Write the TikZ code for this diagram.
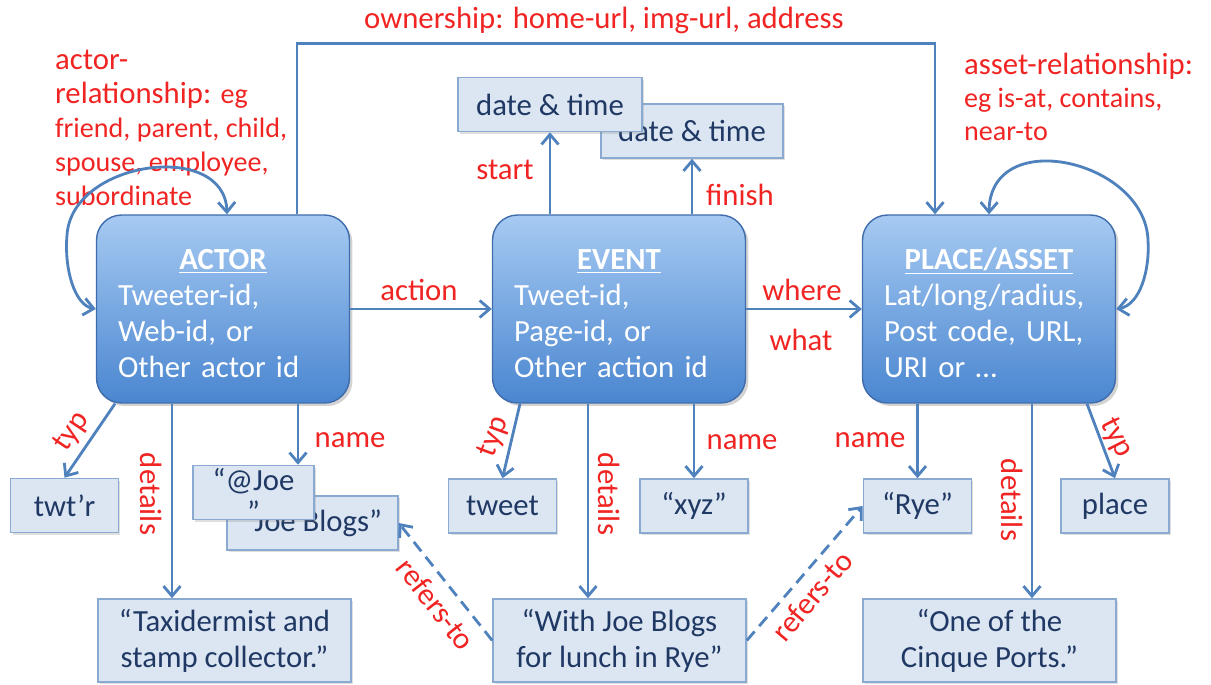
\documentclass[tikz,border=0pt]{standalone}
\usepackage{fontspec}
\setmainfont{Carlito}
\usepackage{tikz}
\usetikzlibrary{arrows.meta, positioning, calc, shadows}
\definecolor{boxtop}{RGB}{166,202,242}
\definecolor{boxbot}{RGB}{74,134,208}
\definecolor{boxedge}{RGB}{62,108,172}
\definecolor{attrfill}{RGB}{220,230,242}
\definecolor{attredge}{RGB}{138,170,210}
\definecolor{attrtext}{RGB}{31,56,100}
\definecolor{linkblue}{RGB}{79,129,189}
\definecolor{relred}{RGB}{240,36,34}
\newcommand{\bodyfont}{\fontsize{17.5}{20.5}\selectfont}
\newcommand{\smallrel}{\fontsize{16}{19.3}\selectfont}
\tikzset{
  mainbox/.style={rectangle, rounded corners=0.5cm, draw=boxedge,
    line width=0.8pt, top color=boxtop, bottom color=boxbot,
    minimum width=5.06cm, minimum height=3.76cm, text width=4.2cm,
    align=left, inner sep=0pt, text=white, font=\bodyfont,
    drop shadow={shadow xshift=0.6mm, shadow yshift=-0.6mm, opacity=0.35}},
  attrbox/.style={rectangle, draw=attredge, fill=attrfill,
    line width=0.9pt, minimum width=2.16cm, minimum height=1.08cm,
    inner sep=2pt, text=attrtext, font=\bodyfont, align=center,
    drop shadow={shadow xshift=0.4mm, shadow yshift=-0.4mm, opacity=0.25}},
  notebox/.style={attrbox, minimum width=5.06cm, minimum height=1.66cm},
  arrow/.style={-{Straight Barb[length=2mm, width=3.4mm]},
    line width=1.6pt, color=linkblue},
  looparrow/.style={arrow, {Straight Barb[length=2mm, width=3.4mm]}-{Straight Barb[length=2mm, width=3.4mm]}},
  refarrow/.style={arrow, dash pattern=on 2.4mm off 1.4mm},
  rel/.style={text=relred, font=\bodyfont, inner sep=1pt}
}

\begin{document}
\begin{tikzpicture}[x=0.02cm, y=-0.02cm]
  \useasboundingbox (0,0) rectangle (1211,684);

  % Main entities
  \node[mainbox] (actor) at (223,309) {\rule{0pt}{0.6cm}\makebox[4.2cm]{\textbf{\underline{ACTOR}}}\\Tweeter-id,\\Web-id, or\\Other actor id};
  \node[mainbox] (event) at (619,309) {\rule{0pt}{0.6cm}\makebox[4.2cm]{\textbf{\underline{EVENT}}}\\Tweet-id,\\Page-id, or\\Other action id};
  \node[mainbox] (place) at (989,309) {\rule{0pt}{0.6cm}\makebox[4.2cm]{\textbf{\underline{PLACE/ASSET}}}\\Lat/long/radius,\\Post code, URL,\\URI or …};

  % Event times
  \node[attrbox, minimum width=3.64cm] (date2) at (692,131) {date \& time};
  \node[attrbox, minimum width=3.68cm] (date1) at (550,104.5) {date \& time};

  % Attribute boxes
  \node[attrbox] (twtr) at (64.5,505.5) {twt’r};
  \node[attrbox, minimum width=3.42cm] (joeblogs) at (312.5,523) {“Joe Blogs”};
  \node[attrbox, minimum width=2.42cm] (joeat) at (253.5,492.5) {\raisebox{-0.6cm}[0pt][0pt]{\shortstack{“@Joe\\[1pt]”}}};
  \node[attrbox] (tweet) at (502.5,506) {tweet};
  \node[attrbox] (xyz) at (694,506) {“xyz”};
  \node[attrbox] (rye) at (917.5,506) {“Rye”};
  \node[attrbox] (plc) at (1115,506) {place};

  % Detail boxes
  \node[notebox] (taxi) at (224.5,640.5) {“Taxidermist and\\stamp collector.”};
  \node[notebox] (with) at (619.5,640.5) {“With Joe Blogs\\for lunch in Rye”};
  \node[notebox] (cinque) at (989.5,640.5) {“One of the\\Cinque Ports.”};

  % Relationship notes
  \node[rel, align=left, anchor=west, font=\fontsize{17.5}{19.3}\selectfont] (actrel) at (53,128)
    {actor-\\relationship: {\smallrel eg}\\{\smallrel friend, parent, child,}\\{\smallrel spouse, employee,}\\{\smallrel subordinate}};
  \node[rel, align=left, anchor=west, font=\fontsize{17.5}{19}\selectfont] (assrel) at (962,97)
    {asset-relationship:\\{\smallrel eg is-at, contains,}\\{\smallrel near-to}};
  \node[rel] (ownlbl) at (604,20) {ownership: home-url, img-url, address};

  % Links between entities
  \draw[arrow] (actor.east) -- (event.west);
  \draw[arrow] (event.east) -- (place.west);
  \draw[arrow] ([xshift=1.48cm]actor.north) -- ++(0,-171) -| ([xshift=-1.08cm]place.north);
  \draw[looparrow] (actor.west) .. controls (75,305) and (64,270) .. (67,235)
    .. controls (72,160) and (225,140) .. ([xshift=0.08cm]actor.north);
  \draw[looparrow] (place.east) .. controls (1140,305) and (1150,270) .. (1148,240)
    .. controls (1145,160) and (990,125) .. (place.north);
  \draw[arrow] (event.north -| date1.south) -- (date1.south);
  \draw[arrow] (event.north -| date2.south) -- (date2.south);

  % Attribute links
  \draw[arrow] ([xshift=-2.16cm]actor.south) -- (twtr.north);
  \draw[arrow] ([xshift=-1.02cm]actor.south) -- ([xshift=-1.02cm]actor.south |- taxi.north);
  \draw[arrow] ([xshift=1.5cm]actor.south) -- ([xshift=1.5cm]actor.south |- joeat.north);
  \draw[arrow] ([xshift=-1.98cm]event.south) -- (tweet.north);
  \draw[arrow] ([xshift=-0.62cm]event.south) -- ([xshift=-0.62cm]event.south |- with.north);
  \draw[arrow] (xyz.north |- event.south) -- (xyz.north);
  \draw[arrow] (rye.north |- place.south) -- (rye.north);
  \draw[arrow] ([xshift=0.86cm]place.south) -- ([xshift=0.86cm]place.south |- cinque.north);
  \draw[arrow] ([xshift=1.96cm]place.south) -- (plc.north);
  \draw[refarrow] (with.west) -- (joeblogs.east);
  \draw[refarrow] (with.east) -- (rye.west);

  % Link labels
  \node[rel] (actlbl) at (419,290) {action};
  \node[rel] (wherelbl) at (802,290) {where};
  \node[rel] (whatlbl) at (801,340) {what};
  \node[rel] (startlbl) at (505,170) {start};
  \node[rel] (finishlbl) at (740,195) {finish};
  \node[rel, rotate=56] (atyp) at (72,432) {typ};
  \node[rel, rotate=-90] (adet) at (151,494) {details};
  \node[rel] (aname) at (350,440) {name};
  \node[rel, rotate=70] (etyp) at (494,437) {typ};
  \node[rel, rotate=-90] (edet) at (609,494) {details};
  \node[rel] (ename) at (742,442) {name};
  \node[rel] (pname) at (870,440) {name};
  \node[rel, rotate=-90] (pdet) at (1012,500) {details};
  \node[rel, rotate=-63] (ptyp) at (1116,438) {typ};
  \node[rel, rotate=-52] (lref) at (436,604) {refers-to};
  \node[rel, rotate=50] (rref) at (812,596) {refers-to};
\end{tikzpicture}
\end{document}
